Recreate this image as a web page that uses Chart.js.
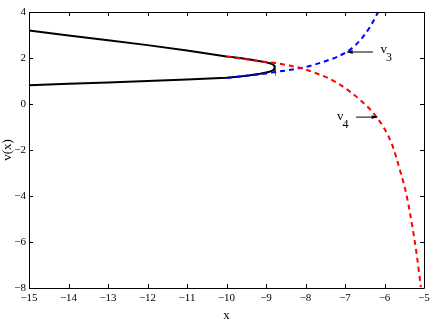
<!DOCTYPE html>
<html>
<head>
<meta charset="utf-8">
<script src="https://cdn.jsdelivr.net/npm/chart.js@4/dist/chart.umd.min.js"></script>
<style>
  html, body { margin: 0; padding: 0; background: #fff; }
  #wrap { width: 436px; height: 327px; }
</style>
</head>
<body>
<div id="wrap"><canvas id="chart" width="436" height="327"></canvas></div>
<script>
// values
const blackX = [-15, -14, -13, -12, -11, -10.5, -10, -9.66, -9.41, -9.15, -9, -8.9, -8.83, -8.79, -8.78, -8.8, -8.85, -8.92, -9, -9.15, -9.41, -9.66, -10, -11, -12, -13, -14, -15];
const blackY = [3.2, 2.98, 2.77, 2.56, 2.33, 2.2, 2.07, 2.0, 1.93, 1.86, 1.81, 1.77, 1.72, 1.66, 1.58, 1.5, 1.44, 1.4, 1.37, 1.32, 1.25, 1.2, 1.14, 1.06, 1.0, 0.94, 0.88, 0.82];

const redX = [-10, -9.41, -9, -8.73, -8.4, -8.1, -7.8, -7.43, -7.2, -6.9, -6.62, -6.2, -5.82, -5.61, -5.45, -5.28, -5.18, -5.08];
const redY = [2.07, 1.92, 1.83, 1.77, 1.67, 1.55, 1.38, 1.13, 0.92, 0.57, 0.18, -0.57, -1.71, -2.87, -3.9, -5.48, -6.6, -7.96];

const blueX = [-10, -9.41, -9, -8.73, -8.4, -8.1, -7.8, -7.43, -7.2, -6.94, -6.74, -6.54, -6.35, -6.16];
const blueY = [1.13, 1.24, 1.33, 1.4, 1.48, 1.57, 1.7, 1.9, 2.05, 2.28, 2.55, 2.93, 3.4, 4.0];

const xTicks = [-15, -14, -13, -12, -11, -10, -9, -8, -7, -6, -5];
const yTicks = [-8, -6, -4, -2, 0, 2, 4];

// arrow labels: [label, subscript, textX, textY, arrowFromX, arrowFromY, arrowToX, arrowToY]
const notes = [
    ['v', '3', -6.1, 2.2, -6.29, 2.26, -6.95, 2.26],
    ['v', '4', -7.2, -0.68, -6.72, -0.57, -6.18, -0.57]
];

const FONT = '"Liberation Serif", "DejaVu Serif", serif';
const pts = (xs, ys) => xs.map((x, i) => ({ x, y: ys[i] }));

const frame = {
    id: 'frame',
    afterDraw(chart) {
        const { ctx, chartArea: a, scales: { x, y } } = chart;
        ctx.save();
        ctx.strokeStyle = '#000';
        ctx.lineWidth = 1;
        ctx.beginPath();
        ctx.rect(a.left + 0.5, a.top + 0.5, a.right - a.left, a.bottom - a.top);
        xTicks.forEach(t => {
            const px = Math.round(x.getPixelForValue(t)) + 0.5;
            ctx.moveTo(px, a.bottom); ctx.lineTo(px, a.bottom - 4);
            ctx.moveTo(px, a.top); ctx.lineTo(px, a.top + 4);
        });
        yTicks.forEach(t => {
            const py = Math.round(y.getPixelForValue(t)) + 0.5;
            ctx.moveTo(a.left, py); ctx.lineTo(a.left + 4, py);
            ctx.moveTo(a.right, py); ctx.lineTo(a.right - 4, py);
        });
        ctx.stroke();

        ctx.fillStyle = '#000';
        ctx.textBaseline = 'alphabetic';
        notes.forEach(n => {
            const tx = x.getPixelForValue(n[2]);
            const ty = y.getPixelForValue(n[3]);
            ctx.font = '13px ' + FONT;
            ctx.textAlign = 'left';
            ctx.fillText(n[0], tx, ty);
            ctx.font = '12px ' + FONT;
            ctx.fillText(n[1], tx + 5.5, ty + 8);
            const fx = x.getPixelForValue(n[4]), fy = y.getPixelForValue(n[5]);
            const ex = x.getPixelForValue(n[6]), ey = y.getPixelForValue(n[7]);
            ctx.beginPath();
            ctx.moveTo(fx, fy); ctx.lineTo(ex, ey);
            ctx.stroke();
            const ang = Math.atan2(ey - fy, ex - fx);
            ctx.beginPath();
            ctx.moveTo(ex, ey);
            ctx.lineTo(ex - 6 * Math.cos(ang - 0.33), ey - 6 * Math.sin(ang - 0.33));
            ctx.lineTo(ex - 6 * Math.cos(ang + 0.33), ey - 6 * Math.sin(ang + 0.33));
            ctx.closePath();
            ctx.fill();
        });
        ctx.restore();
    }
};

new Chart(document.getElementById('chart'), {
    type: 'scatter',
    data: {
        datasets: [
            { data: pts(redX, redY), showLine: true, borderColor: '#ff0000', borderWidth: 2, borderDash: [5, 4], pointRadius: 0, cubicInterpolationMode: 'monotone', order: 1 },
            { data: pts(blueX, blueY), showLine: true, borderColor: '#0000ff', borderWidth: 2, borderDash: [5, 4], pointRadius: 0, cubicInterpolationMode: 'monotone', order: 1 },
            { data: pts(blackX, blackY), showLine: true, borderColor: '#000000', borderWidth: 2, pointRadius: 0, tension: 0, order: 2 }
        ]
    },
    options: {
        responsive: false,
        animation: false,
        layout: { padding: { top: 12, right: 12, left: 0, bottom: 0 } },
        plugins: { legend: { display: false }, tooltip: { enabled: false } },
        scales: {
            x: {
                type: 'linear', min: -15, max: -5,
                afterBuildTicks: s => { s.ticks = xTicks.map(v => ({ value: v })); },
                afterFit: s => { s.height = 39; },
                grid: { display: false, drawTicks: false },
                border: { display: false },
                ticks: {
                    color: '#000', padding: 4, maxRotation: 0,
                    font: { family: FONT, size: 11 },
                    callback: v => String(v).replace('-', '\u2212')
                },
                title: { display: true, text: 'x', color: '#000', font: { family: FONT, size: 13 }, padding: { top: 0, bottom: 4 } }
            },
            y: {
                type: 'linear', min: -8, max: 4,
                afterBuildTicks: s => { s.ticks = yTicks.map(v => ({ value: v })); },
                afterFit: s => { s.width = 29; },
                grid: { display: false, drawTicks: false },
                border: { display: false },
                ticks: {
                    color: '#000', padding: 3,
                    font: { family: FONT, size: 11 },
                    callback: v => String(v).replace('-', '\u2212')
                },
                title: { display: true, text: 'v(x)', color: '#000', font: { family: FONT, size: 13 }, padding: { top: 0, bottom: 0 } }
            }
        }
    },
    plugins: [frame]
});
</script>
</body>
</html>
